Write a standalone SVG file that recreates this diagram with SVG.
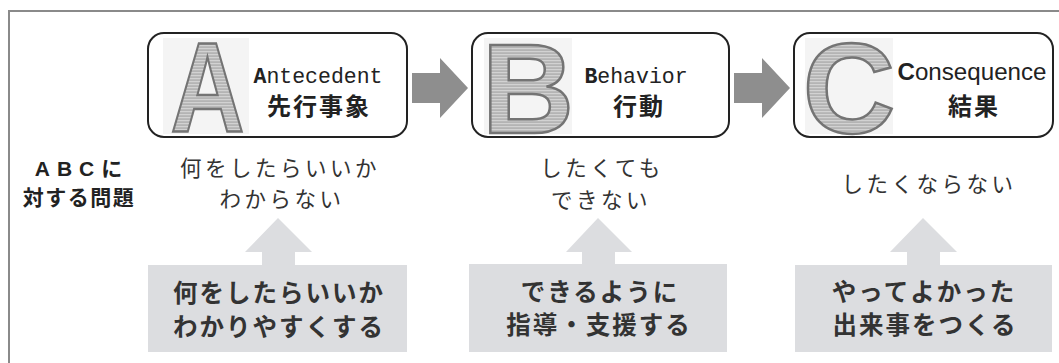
<svg xmlns="http://www.w3.org/2000/svg" width="1059" height="363" viewBox="0 0 1059 363">
<style>
.frame{stroke:#8a8a8a;stroke-width:2;fill:none}
.box{fill:#fff;stroke:#222;stroke-width:2}
.big{font-family:"Liberation Sans",Arial,sans-serif;font-weight:bold;font-size:128px;fill:url(#stripes);stroke:#747474;stroke-width:2.5;text-anchor:middle}
.en{font-family:"Liberation Mono",monospace;font-size:21.5px;fill:#222;text-anchor:middle}
.jpt{font-family:"Noto Sans CJK JP",sans-serif;font-weight:bold;font-size:24px;fill:#222;text-anchor:middle;letter-spacing:2px}
.prob{font-family:"Noto Sans CJK JP",sans-serif;font-size:21.5px;fill:#333;text-anchor:middle;letter-spacing:3.5px}
.lab{font-family:"Liberation Sans","Noto Sans CJK JP",sans-serif;font-weight:bold;font-size:21px;fill:#222;text-anchor:middle}
.sol{font-family:"Noto Sans CJK JP",sans-serif;font-weight:bold;font-size:24.5px;fill:#333;text-anchor:middle;letter-spacing:2px}
.arr{fill:#8e8e8e}
.up{fill:#dcdde0}
.bg{fill:#f4f4f4}
</style>
<defs>
<pattern id="stripes" width="6" height="3" patternUnits="userSpaceOnUse">
<rect width="6" height="3" fill="#b4b4b4"/>
<rect width="6" height="1.2" fill="#d2d2d2"/>
</pattern>
</defs>
<path class="frame" d="M9,363 V11 H1059"/>
<g id="connectors">
<polygon class="arr" points="412,73 440,73 440,58 468,88 440,118 440,103 412,103"/>
<polygon class="arr" points="734,73 762,73 762,58 790,88 762,118 762,103 734,103"/>
</g>
<g id="nodeA">
<rect class="box" x="148" y="33" width="259" height="104" rx="16"/>
<rect class="bg" x="163" y="38" width="86" height="96"/>
<text class="big" transform="translate(207.5,132) scale(0.8,1)">A</text>
<text class="en" x="318" y="83"><tspan font-weight="bold">A</tspan>ntecedent</text>
<text class="jpt" x="319" y="115">先行事象</text>
</g>
<g id="nodeB">
<rect class="box" x="472" y="33" width="257" height="104" rx="16"/>
<rect class="bg" x="484" y="38" width="88" height="96"/>
<text class="big" x="528" y="133">B</text>
<text class="en" x="636" y="83"><tspan font-weight="bold">B</tspan>ehavior</text>
<text class="jpt" x="639" y="115">行動</text>
</g>
<g id="nodeC">
<rect class="box" x="794" y="33" width="259" height="104" rx="16"/>
<rect class="bg" x="805" y="38" width="88" height="96"/>
<text class="big" x="849" y="133">C</text>
<text x="972" y="80" font-family="Liberation Sans,Arial,sans-serif" font-size="24" fill="#222" text-anchor="middle" textLength="149" lengthAdjust="spacingAndGlyphs"><tspan font-weight="bold">C</tspan>onsequence</text>
<text class="jpt" x="974" y="115">結果</text>
</g>
<g id="label">
<text class="lab" x="82" y="176" letter-spacing="7">ABCに</text>
<text class="lab" x="79" y="205" letter-spacing="1.5">対する問題</text>
</g>
<g id="problemA">
<text class="prob" x="280" y="176">何をしたらいいか</text>
<text class="prob" x="282" y="207">わからない</text>
</g>
<g id="problemB">
<text class="prob" x="602" y="176">したくても</text>
<text class="prob" x="601" y="208">できない</text>
</g>
<g id="problemC">
<text class="prob" x="929" y="192">したくならない</text>
</g>
<g id="solutionA">
<polygon class="up" points="278,218 312,252 295,252 295,266 262,266 262,252 245,252"/>
<rect class="up" x="148" y="265" width="259" height="87"/>
<text class="sol" x="279" y="302">何をしたらいいか</text>
<text class="sol" x="279" y="336">わかりやすくする</text>
</g>
<g id="solutionB">
<polygon class="up" points="598,218 632,252 615,252 615,265 582,265 582,252 566,252"/>
<rect class="up" x="469" y="264" width="258" height="88"/>
<text class="sol" x="600" y="301">できるように</text>
<text class="sol" x="599" y="334">指導・支援する</text>
</g>
<g id="solutionC">
<polygon class="up" points="923,218 957,252 940,252 940,266 907,266 907,252 890,252"/>
<rect class="up" x="795" y="265" width="257" height="87"/>
<text class="sol" x="924" y="301">やってよかった</text>
<text class="sol" x="925" y="334">出来事をつくる</text>
</g>
</svg>
